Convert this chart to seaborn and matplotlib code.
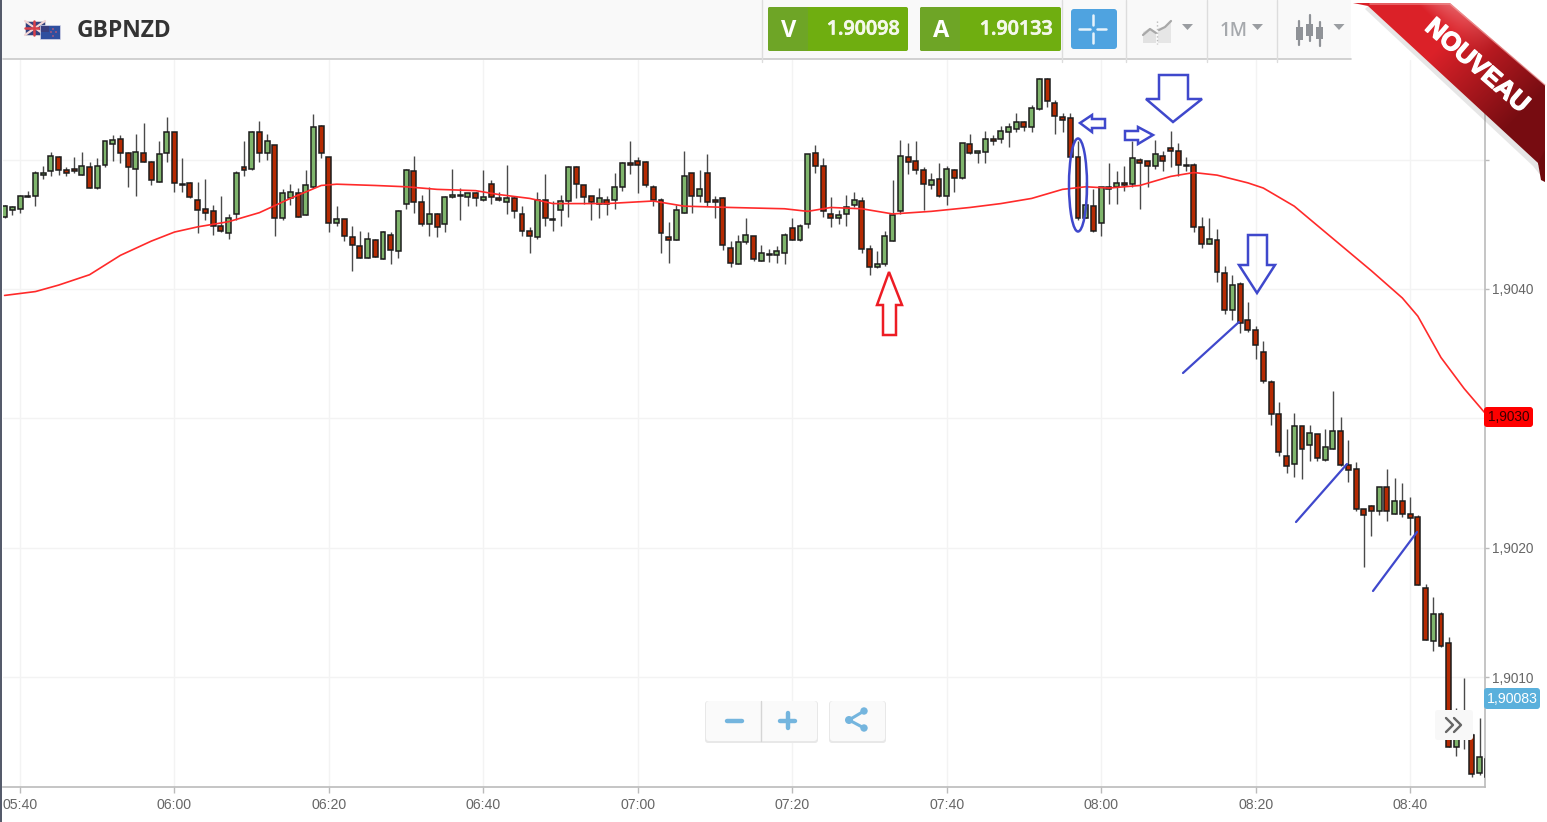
import numpy as np
import pandas as pd
import matplotlib
matplotlib.use("Agg")
import matplotlib.pyplot as plt
import matplotlib.patheffects as pe
from matplotlib.patches import FancyBboxPatch, Polygon, Ellipse, Circle, Rectangle
import seaborn as sns

# prices are kept as points (1e-5) above 1.9000, one candle per minute from 05:38
opens = [456,461,462,471,472,488,491,502,492,493,488,494,478,496,512,516,505,493,505,498,
         483,505,521,481,482,469,462,460,449,443,458,494,493,521,505,511,455,470,474,457,
         479,526,502,451,454,440,433,424,438,423,442,429,466,491,467,450,458,450,471,472,
         471,474,469,481,470,467,470,458,445,440,469,454,461,468,494,480,472,466,469,469,
         479,497,499,498,479,469,440,438,459,490,472,490,469,470,432,419,436,441,422,426,
         426,428,447,438,450,505,495,458,455,458,465,468,431,417,419,437,460,502,499,492,
         480,485,472,492,486,512,505,506,516,516,521,524,529,525,539,562,544,533,532,502,
         455,464,451,479,479,482,481,500,499,495,503,509,507,496,496,448,435,438,412,384,
         404,376,368,351,328,303,271,265,294,279,288,268,276,290,264,261,230,232,228,247,
         226,236,226,224,169,128,149,126,46,62,55,26,37]
closes = [464,463,472,472,490,490,503,492,490,491,495,478,495,514,515,505,494,506,498,484,
          504,521,482,480,471,461,459,449,445,455,490,492,521,505,514,455,474,475,456,480,
          525,505,451,454,441,434,424,439,425,444,430,460,492,467,450,458,448,471,473,473,
          474,470,471,471,469,470,460,445,441,469,455,453,468,494,481,471,467,470,466,479,
          497,496,496,480,469,443,438,461,487,472,477,467,467,434,420,436,442,423,428,427,
          429,442,438,449,504,495,460,455,457,463,469,431,417,419,441,457,503,498,492,481,
          484,472,493,486,513,505,507,516,514,522,525,529,525,540,562,545,534,531,502,455,
          465,445,479,477,482,480,501,497,495,504,499,507,496,495,448,435,439,413,384,403,
          374,368,357,329,303,274,263,294,276,289,269,278,290,264,260,230,225,228,247,228,
          236,226,223,171,129,149,124,46,62,69,25,38,23]
highs = [465,464,473,476,491,495,506,503,494,502,506,498,501,514,519,519,506,520,528,499,
         514,533,521,501,483,483,485,465,472,458,491,514,522,530,520,511,477,481,478,492,
         535,527,502,464,454,449,445,444,439,445,444,461,493,503,473,479,459,472,493,478,
         474,475,492,484,475,496,472,464,448,475,489,468,473,495,495,480,472,478,472,490,
         498,514,502,499,480,470,452,465,507,490,492,504,472,471,437,442,455,441,434,431,
         433,443,455,450,504,511,501,471,461,473,475,471,434,429,445,484,515,513,514,494,
         490,497,495,493,513,520,507,522,519,526,528,536,530,542,563,563,546,536,536,514,
         483,477,479,497,491,495,514,501,499,515,507,522,513,502,497,456,455,446,418,411,
         405,390,371,360,330,313,292,304,294,295,288,292,321,301,283,266,230,233,247,261,
         254,250,239,225,172,162,150,131,76,99,57,68,38]
lows = [455,457,459,471,464,485,487,488,487,490,488,478,477,494,499,497,479,472,498,480,
        483,498,475,475,470,443,453,442,444,439,453,487,492,498,500,441,453,465,456,457,
        478,501,444,449,437,414,424,424,425,423,419,424,462,459,449,441,440,444,470,453,
        464,464,468,466,468,458,455,441,428,439,449,445,449,456,470,466,453,455,457,462,
        476,489,474,479,464,428,420,438,459,459,467,464,455,430,417,419,435,422,422,421,
        420,419,438,437,447,490,456,448,450,449,463,428,411,416,418,437,458,489,489,461,
        477,471,465,475,485,504,497,497,511,513,510,521,522,521,538,541,520,521,501,453,
        455,444,441,466,466,476,479,462,479,493,491,494,487,491,444,432,435,405,381,376,
        366,367,346,327,295,271,258,255,253,267,267,267,276,263,251,228,185,209,225,221,
        226,224,210,171,129,120,123,46,39,44,23,24,22]

# 50-period style average
ma_minutes = [-2,2,5,9,13,17,20,23,27,31,35,39,41,46,50,54,59,62,66,69,76,82,86,92,99,102,105,
              109,113,118,123,127,131,135,138,141,145,149,152,155,159,161,165,170,175,179,181,
              184,187,190]
ma_values = [395,398,403,411,426,437,444,448,452,459,470,480,481,480,479,477,476,473,470,466,
             466,468,464,463,462,460,463,462,458,460,463,466,470,477,479,478,480,487,490,488,
             482,478,464,439,414,393,379,347,323,302]

x_tick_minutes = [0,20,40,60,80,100,120,140,160,180]
x_tick_labels = ["05:40","06:00","06:20","06:40","07:00","07:20","07:40","08:00","08:20","08:40"]
y_tick_values = [1.9010,1.9020,1.9030,1.9040,1.9050]
# 1,9030 sits in the red tag and 1,9050 is not shown
y_tick_labels = ["1,9010","1,9020","","1,9040",""]

sns.set_style("white")

df = pd.DataFrame({"open": opens, "close": closes, "high": highs, "low": lows})
df = 1.9 + df / 1e5
df["minute"] = np.arange(len(df)) - 2
df["up"] = df["close"] >= df["open"]
ma = pd.DataFrame({"minute": ma_minutes, "value": 1.9 + np.array(ma_values) / 1e5})

W, H = 1547, 822
fig = plt.figure(figsize=(W / 100, H / 100), dpi=100, facecolor="white")
ax = fig.add_axes([2.5 / W, (H - 787) / H, 1482.5 / W, 727 / H], zorder=1)

GREEN = "#7fb56c"
RED = "#b52a02"
ax.vlines(df["minute"], df["low"], df["high"], color="#4a4a4a", lw=1.0, zorder=2)
ax.bar(df["minute"], (df["close"] - df["open"]).abs(), bottom=df[["open", "close"]].min(axis=1),
       width=0.64, color=np.where(df["up"], GREEN, RED), edgecolor="#1c1c1c", linewidth=1.1, zorder=3)
sns.lineplot(data=ma, x="minute", y="value", color="#ff2a2a", lw=1.2, ax=ax, zorder=4)

ax.set_xlim(-2.27, 189.7)
ax.set_ylim(1.90015, 1.90577)
ax.set_xlabel("")
ax.set_ylabel("")
ax.yaxis.tick_right()
ax.set_xticks(x_tick_minutes, x_tick_labels, family="Liberation Sans", fontsize=10.2, color="#666666")
ax.set_yticks(y_tick_values, y_tick_labels, family="Liberation Sans", fontsize=9.8, color="#666666")
ax.tick_params(axis="x", length=4, width=1, color="#bbbbbb", pad=4, bottom=True)
ax.tick_params(axis="y", length=3, width=1, color="#bbbbbb", pad=2, right=True)
ax.grid(True, color="#f3f3f3", lw=1)
ax.set_axisbelow(True)
for side in ["top", "left"]:
    ax.spines[side].set_visible(False)
for side in ["bottom", "right"]:
    ax.spines[side].set_color("#bbbbbb")
    ax.spines[side].set_linewidth(1.2)

# everything that sits on top of the chart, in screen pixels
ui = fig.add_axes([0, 0, 1, 1], zorder=2)
ui.patch.set_alpha(0)
ui.axis("off")


def box(x0, y0, x1, y1, color, r=2, z=5, **kw):
    p = FancyBboxPatch((x0, y0), x1 - x0, y1 - y0, boxstyle=f"round,pad=0,rounding_size={r}",
                       fc=color, ec="none", zorder=z, **kw)
    ui.add_patch(p)
    return p


def shadow_box(x0, y0, x1, y1, color="#fafafa", r=3, z=5):
    box(x0 - 1, y0, x1 + 1, y1 + 2, "#e8e8e8", r, z)
    box(x0, y0, x1, y1, color, r, z + 0.1)


# header
ui.add_patch(Rectangle((0, 0), 1351, 59, fc="#f9f9f9", ec="none", zorder=4))
ui.plot([3, 1351], [59.5, 59.5], color="#c9c9c9", lw=1.2, zorder=5)
ui.add_patch(Rectangle((0, 0), 2.4, H, fc="#555b6b", ec="none", zorder=9))
for sx in [762, 1062, 1126, 1207, 1277]:
    ui.plot([sx, sx], [0, 62], color="#dddddd", lw=1, zorder=5)

# flags
ui.add_patch(Rectangle((25, 21), 20, 14, fc="#34427f", ec="#dddddd", lw=0.5, zorder=6))
ui.plot([25, 45], [21, 35], color="#f3d5d5", lw=1.6, zorder=6)
ui.plot([25, 45], [35, 21], color="#f3d5d5", lw=1.6, zorder=6)
ui.plot([25, 45], [28, 28], color="#d8404a", lw=1.8, zorder=6)
ui.plot([34, 34], [21, 35], color="#d8404a", lw=1.8, zorder=6)
ui.add_patch(Rectangle((40, 25), 20, 14, fc="#2f4f9f", ec="#d8d8e8", lw=0.5, zorder=7))
ui.add_patch(Rectangle((41, 26), 8, 6, fc="#3a3f7f", ec="none", zorder=7))
for sx, sy in [(53, 29), (56, 32), (53, 36), (51, 32)]:
    ui.add_patch(Circle((sx, sy), 0.8, fc="#e05a6a", ec="none", zorder=7))
ui.text(77, 31, "GBPNZD", family="Open Sans", weight="bold", fontsize=16.5, color="#333333",
        va="center", ha="left", zorder=6)

# sell / buy buttons
for x0, x1, xd, letter, val in [(768, 908, 808, "V", "1.90098"), (920, 1061, 960, "A", "1.90133")]:
    box(x0, 7, x1, 51, "#6fae10", 2)
    box(x0, 7, xd, 51, "#6ea526", 2, 5.1)
    ui.text((x0 + xd) / 2 + 1, 31, letter, family="Open Sans", weight="bold", fontsize=17, color="white",
            ha="center", va="center", zorder=6)
    ui.text(x1 - 8, 29.5, val, family="Open Sans", weight="semibold", fontsize=14.2, color="#f4f8ea",
            ha="right", va="center", zorder=6,
            path_effects=[pe.withStroke(linewidth=0.5, foreground="#f4f8ea")])

box(1071, 9, 1117, 49, "#4fa3e0", 3)
for seg in [([1079, 1090], [29, 29]), ([1097, 1106], [29, 29]), ([1093, 1093], [15, 25]), ([1093, 1093], [33, 43])]:
    ui.plot(seg[0], seg[1], color="#e8f3fb", lw=1.8, zorder=6)

# greyed toolbar icons
ui.add_patch(Polygon([(1143, 43), (1143, 32), (1150, 28), (1156, 33), (1156, 43)], fc="#e2e2e2", ec="none", zorder=6))
ui.add_patch(Polygon([(1158, 43), (1158, 28), (1165, 27), (1171, 21), (1171, 43)], fc="#e6e6e6", ec="none", zorder=6))
ui.plot([1143, 1150, 1156], [35, 29, 33], color="#a8a8a8", lw=1.6, zorder=7)
ui.plot([1159, 1165, 1171], [30, 27, 21], color="#a8a8a8", lw=1.6, zorder=7)
ui.plot([1157, 1157], [21, 44], color="#bbbbbb", lw=1, ls=":", zorder=7)
ui.text(1220, 31, "1M", family="Open Sans", weight="semibold", fontsize=13.5, color="#a6a9ad", va="center", zorder=6)
for cx in [1187.5, 1257.5, 1339]:
    ui.add_patch(Polygon([(cx - 5.5, 24), (cx + 5.5, 24), (cx, 30)], fc="#9a9da1", ec="none", zorder=6))
for cx, y0, y1, w0, w1 in [(1299, 27, 40, 21, 45), (1309.5, 24, 36, 15, 41), (1319.5, 27, 39, 22, 46)]:
    ui.plot([cx, cx], [w0, w1], color="#8f9297", lw=1.6, zorder=6)
    ui.add_patch(Rectangle((cx - 3.5, y0), 7, y1 - y0, fc="#8f9297", ec="none", zorder=6))

# price tags on the axis
box(1484, 407, 1533, 427, "#ff0000", 3, 6)
ui.text(1509, 417, "1,9030", family="Liberation Sans", fontsize=9.8, color="#3a0000", ha="center", va="center", zorder=7)
box(1484, 688, 1540, 709, "#5ab0dc", 3, 6)
ui.text(1512, 698.5, "1,90083", family="Liberation Sans", fontsize=10.2, color="white", ha="center", va="center", zorder=7)

# zoom, share and scroll buttons
shadow_box(706, 701, 817, 741)
ui.plot([760.5, 760.5], [701, 741], color="#d5d5d5", lw=1, zorder=6)
BLUE_ICON = "#74b5de"
ui.plot([727, 742], [720.5, 720.5], color=BLUE_ICON, lw=3.2, solid_capstyle="round", zorder=6)
ui.plot([780, 795], [720.5, 720.5], color=BLUE_ICON, lw=3.2, solid_capstyle="round", zorder=6)
ui.plot([787.5, 787.5], [713, 728], color=BLUE_ICON, lw=3.2, solid_capstyle="round", zorder=6)
shadow_box(830, 701, 885, 741)
ui.plot([864, 849, 864], [711, 720, 728], color=BLUE_ICON, lw=2.2, zorder=6)
for cx, cy, r in [(849, 720, 4), (864, 711, 3.7), (864, 728, 3.7)]:
    ui.add_patch(Circle((cx, cy), r, fc=BLUE_ICON, ec="none", zorder=6))
box(1435, 710, 1473, 740, "#f8f8f8", 3, 6)
ui.plot([1446, 1453, 1446], [718, 725, 732], color="#666666", lw=1.7, zorder=7)
ui.plot([1454, 1461, 1454], [718, 725, 732], color="#666666", lw=1.7, zorder=7)

# hand drawn marks
MARK = "#3f48cc"
arrows = [
    [(1159, 75), (1188, 75), (1188, 99), (1202, 99), (1173, 122), (1146, 99), (1159, 99)],
    [(1248, 235), (1267, 235), (1267, 265), (1275, 265), (1257, 293), (1239, 265), (1248, 265)],
    [(1080, 123), (1092, 115), (1092, 119), (1105, 119), (1105, 128), (1092, 128), (1092, 132)],
    [(1125, 131), (1138, 131), (1138, 127), (1153, 135), (1138, 144), (1138, 140), (1125, 140)],
]
for pts in arrows:
    ui.add_patch(Polygon(pts, fc="none", ec=MARK, lw=1.8, zorder=8))
ui.add_patch(Ellipse((1078, 185), 18, 93, fc="none", ec=MARK, lw=1.8, zorder=8))
for xs, ys in [([1183, 1239], [373, 322]), ([1296, 1347], [522, 464]), ([1373, 1417], [591, 532])]:
    ui.plot(xs, ys, color=MARK, lw=1.6, zorder=8)
ui.add_patch(Polygon([(889, 272), (902, 305), (896, 305), (896, 335), (883, 335), (883, 305), (877, 305)],
                     fc="none", ec="#ed1c24", lw=1.8, zorder=8))

# corner ribbon
ui.add_patch(Polygon([(1368, 6), (1538, 163), (1541, 176), (1533, 166), (1365, 9)], fc="#777777", ec="none",
                     alpha=0.18, zorder=9))
gx, gy = np.meshgrid(np.linspace(1350, 1547, 200), np.linspace(0, 185, 190))
along = np.clip((gx + gy - 1356) / 371, 0, 1)
across = np.clip((gx - gy - 1365) / 90, 0, 1)
bright = np.array([0.86, 0.13, 0.16])
dark = np.array([0.47, 0.05, 0.07])
mix = np.clip((along - 0.35) / 0.4, 0, 1)[..., None]
rgb = bright * (1 - mix) + dark * mix
glow = (np.clip((across - 0.55) / 0.45, 0, 1) * np.clip((0.5 - along) / 0.3, 0, 1))[..., None]
rgb = rgb * (1 - 0.45 * glow) + 0.45 * glow
band = Polygon([(1353, 3), (1450, 3), (1545, 85), (1545, 178), (1538, 163), (1368, 6)], transform=ui.transData)
im = ui.imshow(rgb, extent=(1350, 1547, 185, 0), aspect="auto", zorder=10)
im.set_clip_path(band)
ui.add_patch(Polygon([(1538, 163), (1545, 150), (1545, 182), (1541, 180)], fc="#6e0a0d", ec="none", zorder=10.5))
ui.plot([1370, 1450, 1545], [4, 4, 85], color="#f2a0a0", lw=1, alpha=0.7, zorder=11)
ui.text(1477, 66, "NOUVEAU", family=["Liberation Sans Narrow", "Liberation Sans"], weight="bold", fontsize=18.5,
        color="white", rotation=-41, rotation_mode="anchor", ha="center", va="center", zorder=12,
        path_effects=[pe.withStroke(linewidth=1.0, foreground="white")])

ui.set_xlim(0, W)
ui.set_ylim(H, 0)

fig.savefig("out.png", dpi=100)
